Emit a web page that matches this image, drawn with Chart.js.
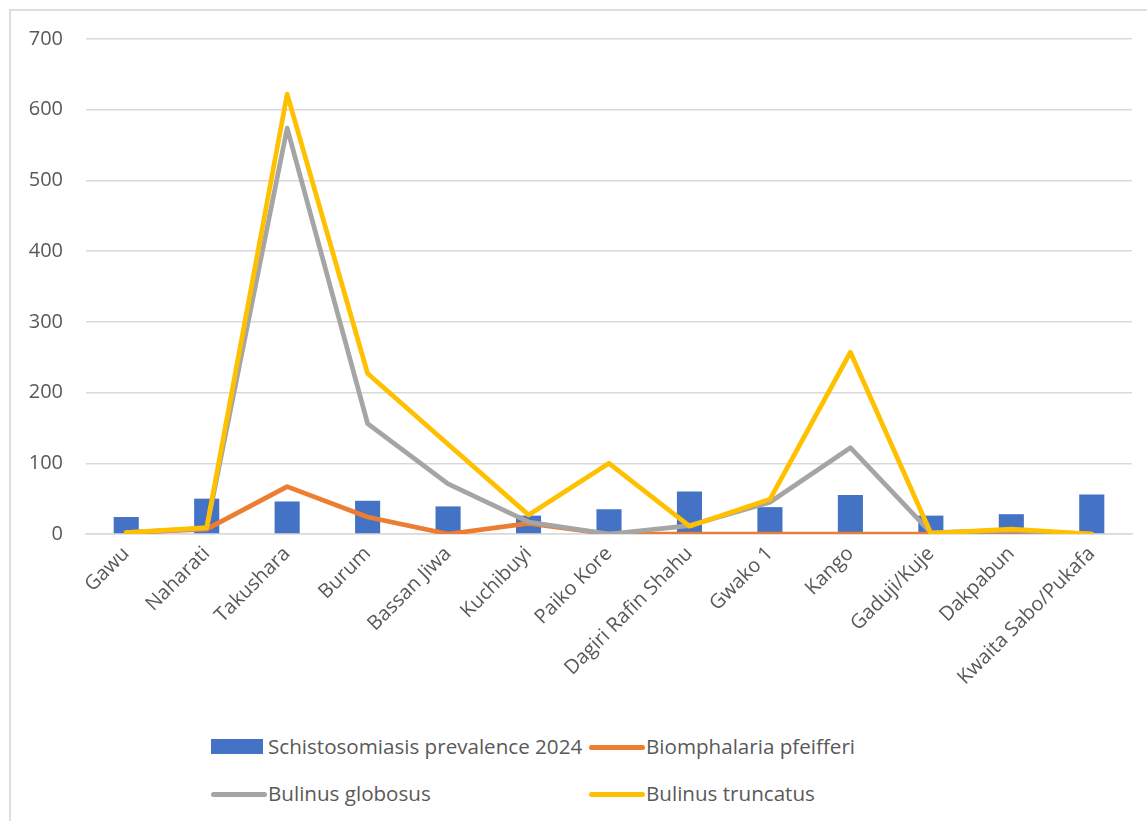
<!DOCTYPE html>
<html>
<head>
<meta charset="utf-8">
<script src="https://cdn.jsdelivr.net/npm/chart.js@4.4.1/dist/chart.umd.min.js"></script>
<style>
  html, body { margin: 0; padding: 0; background: #fff; overflow: hidden; }
  #wrap { position: relative; width: 1147px; height: 821px; }
  #frame { position: absolute; left: 9px; top: 9px; width: 1200px; height: 900px; border: 2px solid #dedede; box-sizing: border-box; }
  #box { position: absolute; left: 0; top: 0; width: 1147px; height: 720px; }
  .leg { position: absolute; font-family: "Open Sans", sans-serif; font-size: 20.6px; color: #595959; white-space: nowrap; line-height: 24px; }
  .sw { position: absolute; }
</style>
</head>
<body>
<div id="wrap">
  <div id="frame"></div>
  <div id="box"><canvas id="chart-snails"></canvas></div>
  <div id="legend"></div>
</div>
<script>
// villages along the x axis
var villages = ['Gawu', 'Naharati', 'Takushara', 'Burum', 'Bassan Jiwa', 'Kuchibuyi', 'Paiko Kore',
                'Dagiri Rafin Shahu', 'Gwako 1', 'Kango', 'Gaduji/Kuje', 'Dakpabun', 'Kwaita Sabo/Pukafa'];

// values
var prevalence2024 = [24, 50, 46, 47, 39, 26, 35, 60, 38, 55, 26, 28, 56];
var biomphalaria   = [2, 7, 67, 24, 0, 15, 0, 0, 0, 0, 0, 3, 0];
var globosus       = [2, 8, 574, 156, 71, 17, 0, 12, 45, 122, 2, 5, 0];
var truncatus      = [2, 9, 622, 227, 127, 27, 100, 11, 49, 257, 1, 7, 0];

var yTicks = [0, 100, 200, 300, 400, 500, 600, 700];

var seriesNames  = ['Schistosomiasis prevalence 2024', 'Biomphalaria pfeifferi', 'Bulinus globosus', 'Bulinus truncatus'];
var seriesColors = ['#4472C4', '#ED7D31', '#A5A5A5', '#FFC000'];

var chart;

function lineSet(idx, values, ord) {
  return {
    type: 'line',
    label: seriesNames[idx],
    data: values,
    borderColor: seriesColors[idx],
    backgroundColor: seriesColors[idx],
    borderWidth: 4.75,
    pointRadius: 0,
    borderCapStyle: 'round',
    borderJoinStyle: 'round',
    tension: 0,
    order: ord
  };
}

function initChart() {
  var ctx = document.getElementById('chart-snails').getContext('2d');
  chart = new Chart(ctx, {
    type: 'bar',
    data: {
      labels: villages,
      datasets: [
        {
          label: seriesNames[0],
          data: prevalence2024,
          backgroundColor: seriesColors[0],
          borderWidth: 0,
          categoryPercentage: 0.6,
          barPercentage: 0.52,
          order: 4
        },
        lineSet(1, biomphalaria, 3),
        lineSet(2, globosus, 2),
        lineSet(3, truncatus, 1)
      ]
    },
    options: {
      responsive: true,
      maintainAspectRatio: false,
      animation: false,
      layout: { padding: { top: 39, right: 15, left: 0, bottom: 0 } },
      plugins: { legend: { display: false }, tooltip: { enabled: false } },
      scales: {
        x: {
          offset: true,
          grid: { display: false, drawTicks: false },
          border: { display: true, color: '#d9d9d9', width: 1.5 },
          ticks: {
            color: '#595959',
            font: { family: 'Open Sans', size: 20 },
            maxRotation: 45,
            minRotation: 45,
            autoSkip: false,
            padding: 8
          },
          afterFit: function(scale) { scale.height = 186; }
        },
        y: {
          min: 0,
          max: 700,
          afterBuildTicks: function(scale) {
            scale.ticks = yTicks.map(function(v) { return { value: v }; });
          },
          grid: { color: '#d9d9d9', lineWidth: 1.5, drawTicks: false },
          border: { display: false },
          ticks: {
            color: '#595959',
            font: { family: 'Open Sans', size: 20 },
            padding: 23
          },
          afterFit: function(scale) { scale.width = 86; }
        }
      }
    }
  });
}

function buildLegend() {
  // two columns, two rows like the original
  var legend = document.getElementById('legend');
  var cols = [211, 589];
  var rows = [747, 794];
  for (var i = 0; i < seriesNames.length; i++) {
    var x = cols[i % 2];
    var y = rows[Math.floor(i / 2)];
    var sw = document.createElement('div');
    sw.className = 'sw';
    if (i == 0) {
      sw.style.cssText = 'left:' + x + 'px;top:' + (y - 8) + 'px;width:52px;height:15px;background:' + seriesColors[i];
    } else {
      sw.style.cssText = 'left:' + x + 'px;top:' + (y - 2) + 'px;width:56px;height:4.75px;border-radius:3px;background:' + seriesColors[i];
    }
    legend.appendChild(sw);
    var txt = document.createElement('div');
    txt.className = 'leg';
    txt.style.left = (x + 57) + 'px';
    txt.style.top = (y - 13) + 'px';
    txt.textContent = seriesNames[i];
    legend.appendChild(txt);
  }
}

buildLegend();
initChart();
</script>
</body>
</html>
